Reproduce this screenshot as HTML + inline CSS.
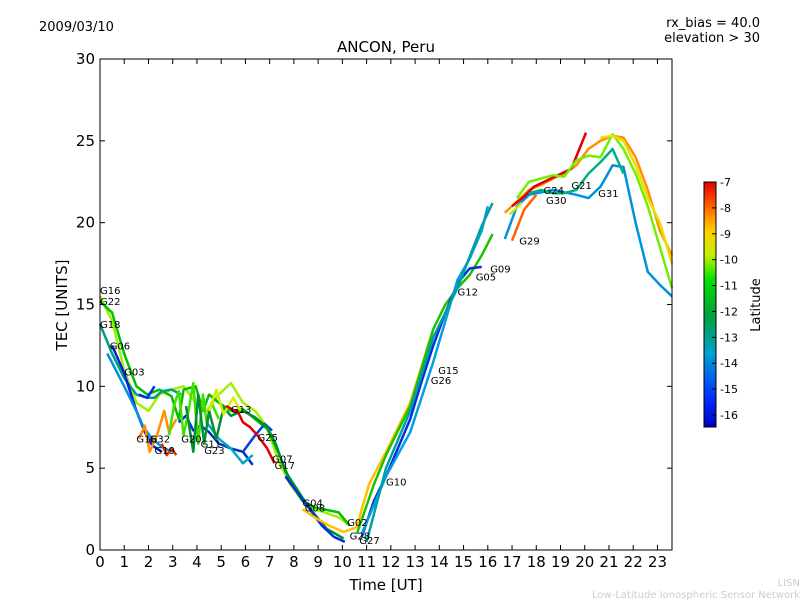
<!DOCTYPE html>
<html><head><meta charset="utf-8"><style>
body{margin:0;background:#fff;width:800px;height:600px;overflow:hidden;font-family:"DejaVu Sans","Liberation Sans",sans-serif}
svg{position:absolute;left:0;top:0}
</style></head><body>
<svg id="c" width="800" height="600" xmlns="http://www.w3.org/2000/svg">
<defs><linearGradient id="jet" x1="0" y1="1" x2="0" y2="0">
<stop offset="0" stop-color="#0000c0"/><stop offset="0.12" stop-color="#0030ff"/><stop offset="0.3" stop-color="#00a0d0"/><stop offset="0.45" stop-color="#00a040"/><stop offset="0.6" stop-color="#00e000"/><stop offset="0.7" stop-color="#c0f000"/><stop offset="0.8" stop-color="#ffd000"/><stop offset="0.9" stop-color="#ff6000"/><stop offset="1" stop-color="#e00000"/></linearGradient></defs>
<text x="39" y="31" font-size="13">2009/03/10</text>
<text x="760" y="27" font-size="13" text-anchor="end">rx_bias = 40.0</text>
<text x="760" y="42" font-size="13" text-anchor="end">elevation &gt; 30</text>
<text x="386" y="52" font-size="15" text-anchor="middle">ANCON, Peru</text>
<text x="386" y="590" font-size="15" text-anchor="middle">Time [UT]</text>
<text x="67" y="305" font-size="15" text-anchor="middle" transform="rotate(-90 67 305)">TEC [UNITS]</text>
<g id="marks"></g>
<rect x="100" y="59" width="572" height="491" fill="none" stroke="#000"/>
<g id="axes"></g>
<rect x="704" y="182" width="12" height="245" fill="url(#jet)" stroke="#000"/>
<g id="cbticks"></g>
<text x="760" y="305" font-size="13" text-anchor="middle" transform="rotate(-90 760 305)">Latitude</text>
<text x="800" y="586" font-size="10" fill="#ccc" text-anchor="end">LISN</text>
<text x="800" y="598" font-size="10" fill="#ccc" text-anchor="end">Low-Latitude Ionospheric Sensor Network</text>
</svg>
<script>
const xTicks=[0,1,2,3,4,5,6,7,8,9,10,11,12,13,14,15,16,17,18,19,20,21,22,23];
const yTicks=[0,5,10,15,20,25,30];
const cbTicks=[-7,-8,-9,-10,-11,-12,-13,-14,-15,-16];
const seriesColors=["#a0f000","#00c000","#00a080","#0020e0","#0090e0","#0030f0","#ff9000","#e83000","#0030d0","#40e000","#0040e0","#00a8c0","#009030","#d0f000","#0030e0","#ffc000","#e00000","#20c000","#0030e0","#00a0e0","#00a0a0","#ff9000","#0090e0","#e00000","#70f000","#e8e000","#ff6000","#00b080","#c0f000"];
const seriesData=[
[[0,15.5],[0.5,14],[1,11],[1.5,9],[2,8.5],[2.45,9.5],[2.95,9.8],[3.45,10],[3.95,9],[4.4,8.5],[4.9,9.5],[5.4,10.2],[5.9,9],[6.4,8.5],[6.9,7.5],[7.35,5.5],[7.85,4],[8.35,3],[8.85,2.5],[9.85,2],[10.3,1.5]],
[[0,15.2],[0.5,14.5],[1,12],[1.5,10],[1.95,9.5],[2.45,9.8],[2.95,9.4],[3.25,8],[3.45,9.8],[3.95,10],[4.25,8.5],[4.5,9.5],[4.9,9],[5.4,8.5],[5.9,8.6],[6.4,8],[6.9,7.4],[7.35,6],[7.85,4.2],[8.35,3],[8.85,2.6],[9.85,2.3],[10.3,1.5]],
[[0,13.8],[0.5,12],[1,10.5],[1.5,9.5],[1.95,9.3],[2.25,9.3],[2.55,9.7],[2.95,9.8],[3.35,9.5]],
[[0.5,12.5],[1,10.8],[1.5,8.5],[1.85,7.2],[2.15,6.4],[2.55,6]],
[[0.3,12],[1,10],[1.5,8.5],[1.8,7.5],[2.15,6.8],[2.55,6.3],[2.95,6]],
[[1.6,9.5],[1.95,9.3],[2.25,10]],
[[1.6,6.8],[1.85,7.6],[2.05,6],[2.35,7],[2.65,8.5],[2.85,7.2],[3.15,8]],
[[2.55,6.5],[2.75,5.8],[2.95,6.2],[3.15,5.8]],
[[3.25,7.8],[3.55,8.2],[3.85,7.3],[4.15,7.6],[4.5,7.2],[4.9,6.5],[5.4,6.2],[5.9,6],[6.3,5.2]],
[[2.85,7],[3.05,8.8],[3.25,9.7],[3.45,7],[3.65,8.5],[3.85,10.2],[4.05,6.5],[4.25,9.5],[4.4,7.8],[4.6,9],[4.9,8]],
[[5.9,6],[6.4,7],[6.8,7.7],[7.1,7.3]],
[[4.4,7.8],[4.9,6.8],[5.4,6.2],[5.9,5.3],[6.3,5.8]],
[[3.55,8.8],[3.85,6],[4.05,9.5],[4.3,6.5],[4.5,8.5],[4.8,6.8],[5.1,8.7],[5.4,8.2],[5.9,8.5],[6.4,8.1],[6.9,7.5],[7.25,6.5],[7.65,4.8],[8.35,3.2],[8.85,2.2],[9.35,1.3],[10.05,0.7]],
[[4.5,8.5],[4.8,9.8],[5.1,8.3],[5.5,9.3],[5.8,8.5]],
[[7.65,4.5],[8.15,3.5],[8.65,2.5],[9.15,1.5],[9.65,0.8],[10.1,0.5]],
[[8.35,2.5],[8.85,2],[9.45,1.5],[10.05,1.1],[10.6,1.4],[10.8,2.5],[11.1,4],[11.8,6],[12.8,9],[13.75,13.5]],
[[5.2,8.8],[5.7,8.4],[5.9,7.8],[6.2,7.5],[6.5,7],[6.9,6.2],[7.2,5.3]],
[[10.6,1],[11.3,4],[11.8,5.8],[12.8,8.8],[13.25,11],[13.75,13.5],[14.25,15],[14.75,16],[15.25,16.8],[15.75,18],[16.2,19.3]],
[[10.8,0.8],[11.3,3],[11.8,4.5],[12.8,8],[13.25,10.2],[13.75,12.5],[14.25,14.5],[14.75,16.3],[15.25,17.2],[15.75,17.3]],
[[10.8,1],[11.8,4.5],[12.8,7.2],[13.75,11.5],[14.25,14],[14.75,16.5],[15.25,17.8],[15.75,19.5],[16.0,21]],
[[11,0.5],[11.8,5],[12.8,8.5],[13.75,13],[14.75,16],[15.75,19.8],[16.2,21.2]],
[[16.7,20.6],[17.2,21.3],[17.7,22],[18.2,22.3],[18.7,22.7],[19.15,23],[19.65,23.5],[20.15,24.5],[20.65,25],[21.15,25.3],[21.6,25.2],[22.1,24],[22.6,22],[23.1,19.5],[23.6,18]],
[[16.7,19],[17.2,21],[17.7,21.7],[18.7,22],[19.65,21.7],[20.15,21.5],[20.65,22.2],[21.15,23.5],[21.6,23.4],[22.1,20],[22.6,17],[23.1,16.2],[23.6,15.5]],
[[17,21],[17.5,21.6],[17.9,22.2],[19.45,23.3],[20.05,25.5]],
[[17.2,21.5],[17.7,22.5],[18.2,22.7],[18.7,22.9],[19.15,22.8],[19.65,23.8],[20.15,24.1],[20.65,24],[21.15,25.4],[21.6,24.5],[22.1,23],[22.6,21],[23.1,18.5],[23.6,16]],
[[20.65,25.2],[21.15,25.3],[21.6,25],[22.1,23.5],[22.6,21.5],[23.1,20],[23.6,17.5]],
[[17,18.9],[17.5,20.8],[18,21.7]],
[[17.7,21.8],[18.2,22],[18.7,21.8],[19.15,21.8],[19.65,22],[20.15,23],[20.65,23.7],[21.15,24.5],[21.6,23]],
[[16.9,20.5],[17.4,21.2]]
];
const labels=[["G16",0,15.9],["G22",0,15.2],["G18",0,13.8],["G06",0.4,12.5],["G03",1,10.9],["G16",1.5,6.8],["G32",2.05,6.8],["G19",2.25,6.1],["G20",3.35,6.8],["G11",4.15,6.5],["G23",4.3,6.1],["G13",5.4,8.6],["G25",6.5,6.9],["G07",7.1,5.6],["G17",7.2,5.2],["G04",8.35,2.9],["G08",8.45,2.6],["G02",10.2,1.7],["G28",10.3,0.9],["G27",10.7,0.6],["G10",11.8,4.2],["G15",13.95,11],["G26",13.65,10.4],["G12",14.75,15.8],["G05",15.5,16.7],["G09",16.1,17.2],["G29",17.3,18.9],["G24",18.3,22],["G30",18.4,21.4],["G21",19.45,22.3],["G31",20.55,21.8]];
const PX=572/23.6;
const X=t=>100+t*PX, Y=v=>550-v*(491/30), CB=l=>182+(-7-l)*(233/9);
const ns="http://www.w3.org/2000/svg";
const mk=(g,tag,a)=>{const e=document.createElementNS(ns,tag);for(const k in a)e.setAttribute(k,a[k]);g.appendChild(e);return e;};
const marks=document.getElementById('marks');
seriesData.forEach((s,i)=>{
 const p=mk(marks,'polyline',{points:s.map(d=>X(d[0]).toFixed(1)+','+Y(d[1]).toFixed(1)).join(' '),fill:'none',stroke:seriesColors[i%seriesColors.length],'stroke-width':2.5,'stroke-linejoin':'round'});
 
 
});
labels.forEach(l=>{
 const t=mk(marks,'text',{x:X(l[1]).toFixed(1),y:(Y(l[2])+4).toFixed(1),'font-size':10});
 t.textContent=l[0];
 
 
});
const ax=document.getElementById('axes');
xTicks.forEach(t=>{
 const x=X(t);
 mk(ax,'line',{x1:x,x2:x,y1:550,y2:545,stroke:'#000'});mk(ax,'line',{x1:x,x2:x,y1:59,y2:64,stroke:'#000'});
 const e=mk(ax,'text',{x:x,y:567,'font-size':15,'text-anchor':'middle'});e.textContent=t;
 
 
});
yTicks.forEach(v=>{
 const y=Y(v);
 mk(ax,'line',{x1:100,x2:105,y1:y,y2:y,stroke:'#000'});mk(ax,'line',{x1:672,x2:667,y1:y,y2:y,stroke:'#000'});
 const e=mk(ax,'text',{x:95,y:y+5,'font-size':15,'text-anchor':'end'});e.textContent=v;
 
 
});
const cb=document.getElementById('cbticks');
cbTicks.forEach(v=>{
 const y=CB(v);
 mk(cb,'line',{x1:712,x2:716,y1:y,y2:y,stroke:'#000'});
 const e=mk(cb,'text',{x:720,y:y+4,'font-size':11});e.textContent=v;
 
 
});
</script>
</body></html>
